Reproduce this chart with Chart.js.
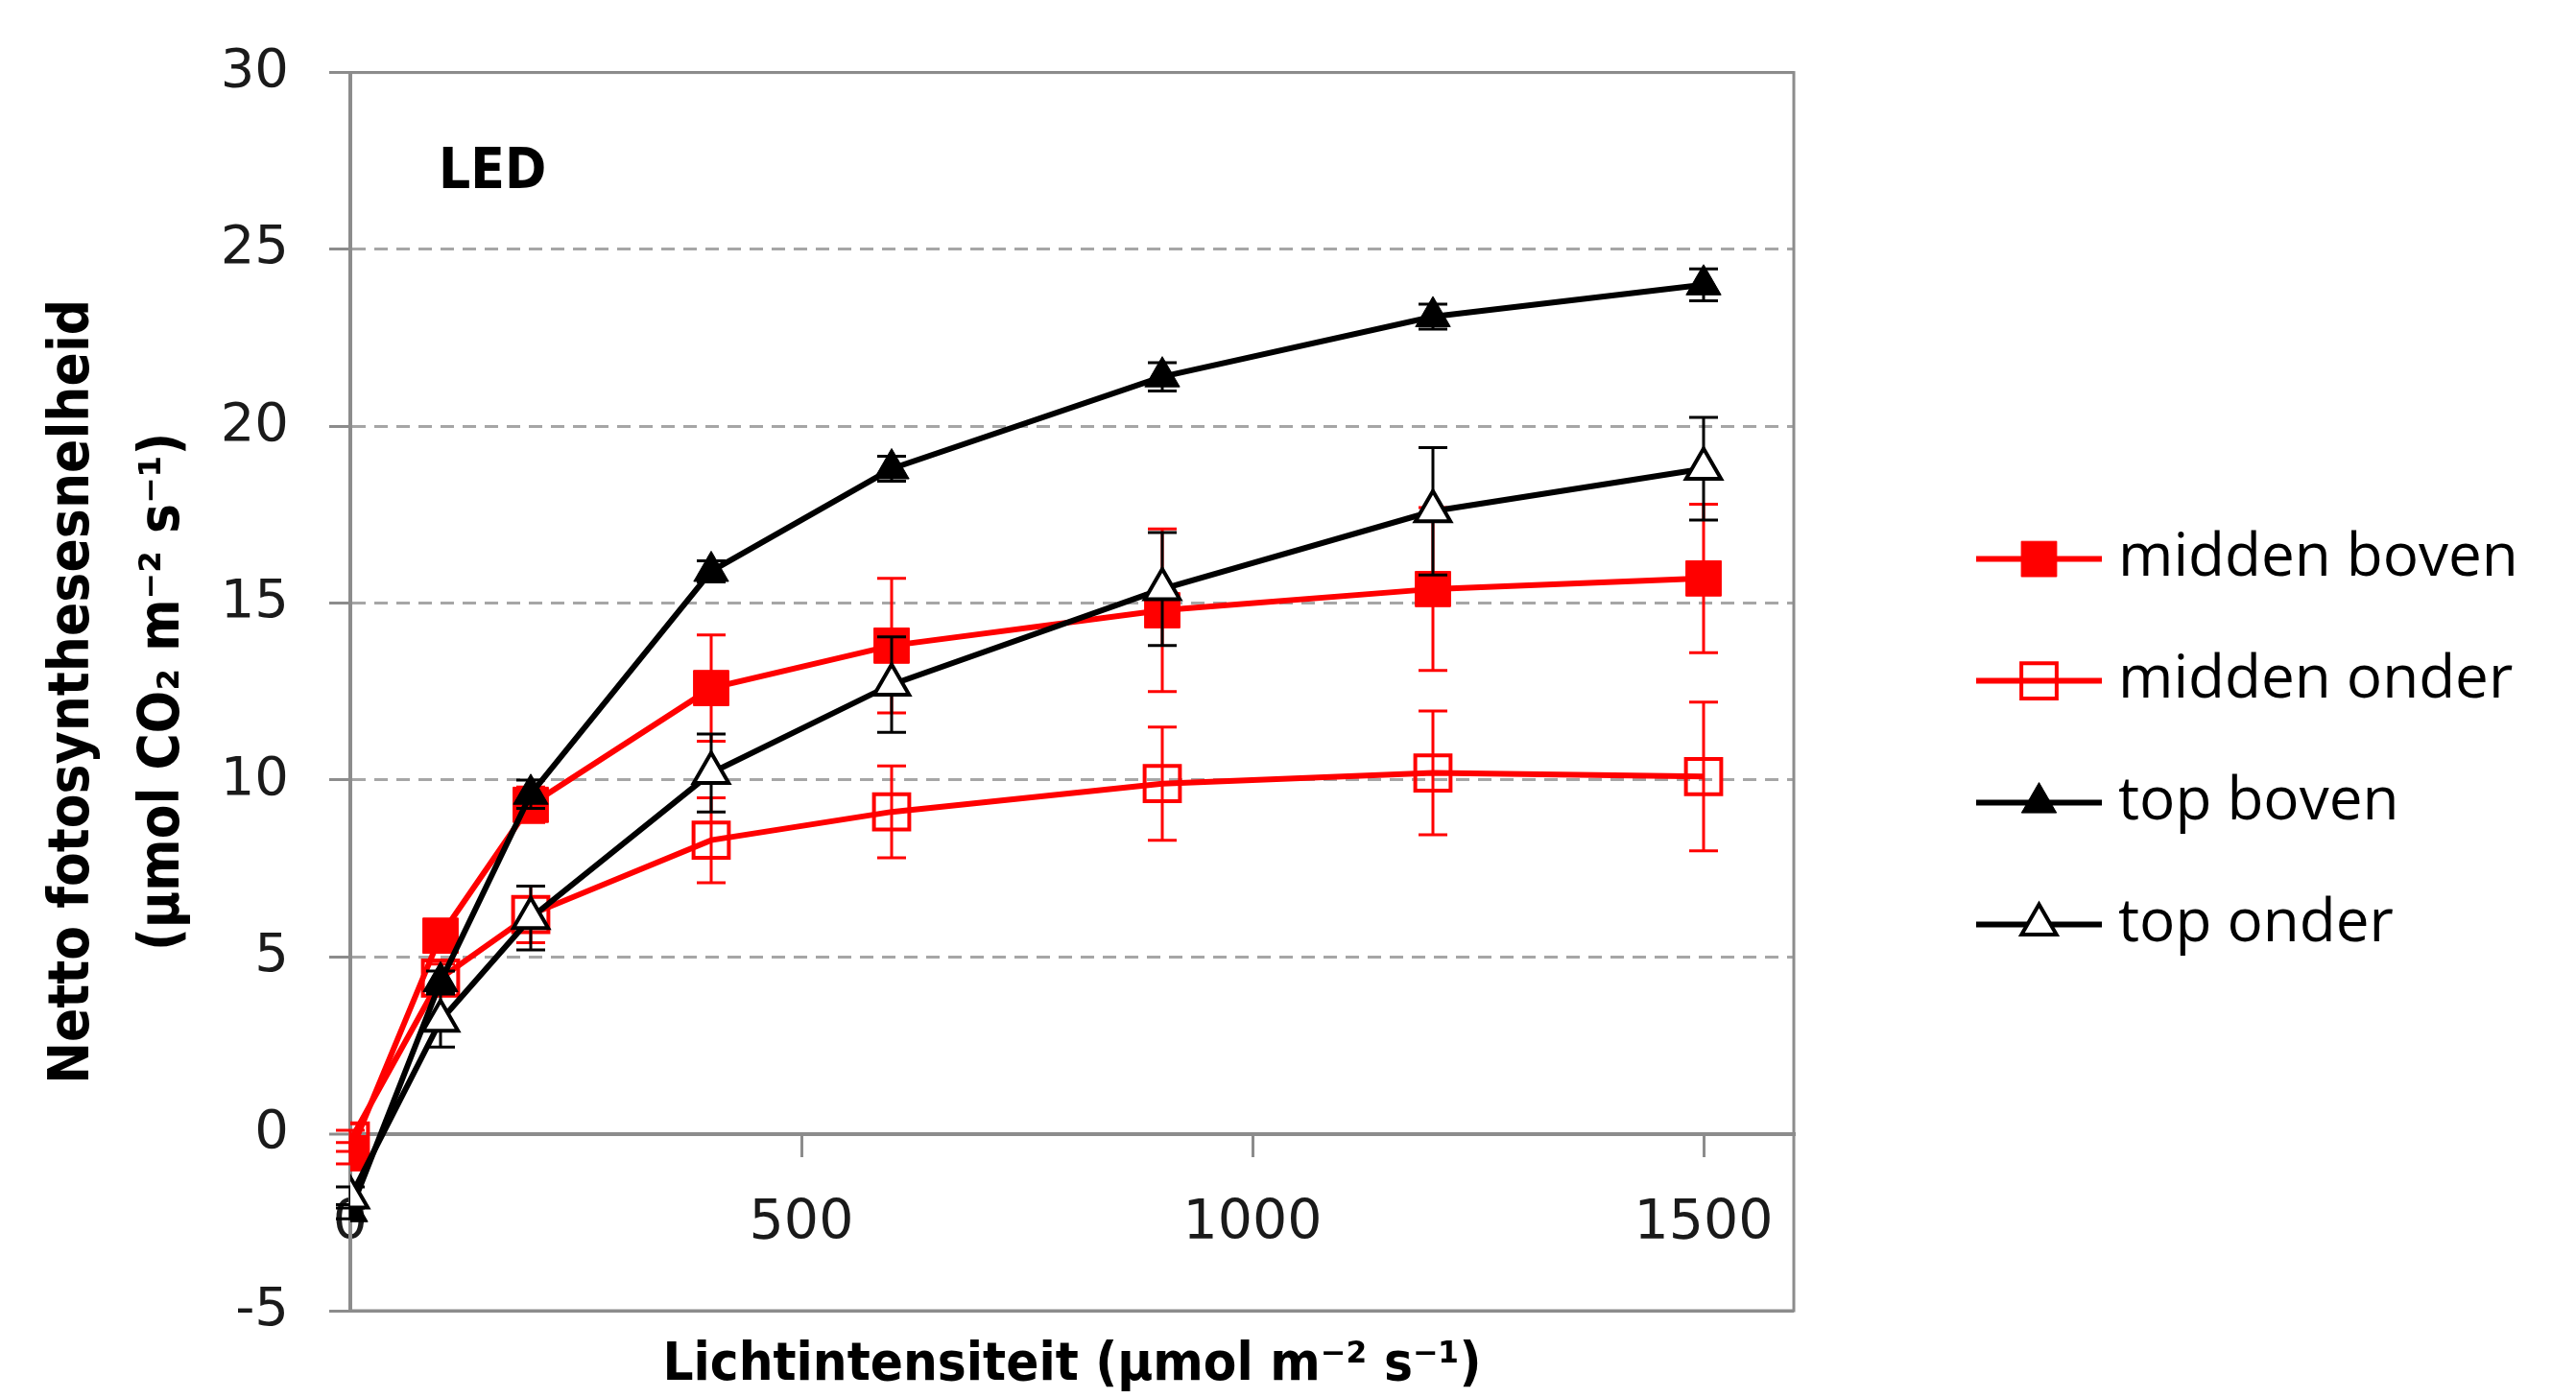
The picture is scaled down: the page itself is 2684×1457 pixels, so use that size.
<!DOCTYPE html>
<html lang="nl">
<head>
<meta charset="UTF-8">
<title>Netto fotosynthesesnelheid - LED</title>
<script src="https://cdn.jsdelivr.net/npm/chart.js"></script>
<style>
  html, body { margin: 0; padding: 0; background: #fff; }
  canvas { display: block; }
</style>
</head>
<body>
<canvas id="grafiek" width="2684" height="1457"></canvas>
<script>
// lichtintensiteit (x-as) en as-verdeling
const lichtNiveaus = [0, 100, 200, 400, 600, 900, 1200, 1500];
const xTicks = [0, 500, 1000, 1500];
const yTicks = [-5, 0, 5, 10, 15, 20, 25, 30];

const reeksNamen = ['midden boven', 'midden onder', 'top boven', 'top onder'];

// netto fotosynthese per reeks, met foutbalken (+/-)
const middenBoven     = [-0.55, 5.6, 9.3, 12.6, 13.8, 14.8, 15.4, 15.7];
const middenBovenFout = [0.3, 0.3, 0.5, 1.5, 1.9, 2.3, 2.3, 2.1];
const middenOnder     = [-0.2, 4.4, 6.2, 8.3, 9.1, 9.9, 10.2, 10.1];
const middenOnderFout = [0.3, 0.4, 0.8, 1.2, 1.3, 1.6, 1.75, 2.1];
const topBoven        = [-2.2, 4.3, 9.6, 15.9, 18.8, 21.4, 23.1, 24.0];
const topBovenFout    = [0.2, 0.3, 0.4, 0.3, 0.35, 0.4, 0.35, 0.45];
const topOnder        = [-1.8, 3.2, 6.1, 10.2, 12.7, 15.4, 17.6, 18.8];
const topOnderFout    = [0.3, 0.75, 0.9, 1.1, 1.35, 1.6, 1.8, 1.45];

const asGrijs = '#8c8c8c';
const rasterGrijs = '#a6a6a6';
const titelFont = "'DejaVu Sans Condensed', 'Liberation Sans Narrow', sans-serif";
const leeg = 'rgba(0,0,0,0)';

function punten(waarden) {
  return lichtNiveaus.map((x, i) => ({ x: x, y: waarden[i] }));
}

function reeks(naam, waarden, fout, kleur, vorm, vulling, open, volgorde) {
  const straal = vorm === 'rect' ? 26 : 21;
  return {
    label: naam,
    data: punten(waarden),
    foutBalken: fout,
    borderColor: kleur,
    borderWidth: 6,
    tension: 0,
    fill: false,
    pointStyle: vorm,
    pointRadius: straal,
    pointHoverRadius: straal,
    pointBackgroundColor: vulling,
    pointBorderColor: kleur,
    pointBorderWidth: open ? 4 : 1,
    order: volgorde
  };
}

// foutbalken direct voor elke reeks tekenen
const foutBalkenPlugin = {
  id: 'foutBalken',
  beforeDatasetDraw(chart, args) {
    const ds = chart.data.datasets[args.index];
    const fout = ds.foutBalken;
    if (!fout) return;
    const { ctx } = chart;
    const xs = chart.scales.x, ys = chart.scales.y;
    ctx.save();
    ctx.strokeStyle = ds.borderColor;
    ctx.lineWidth = 3;
    ds.data.forEach((p, i) => {
      const px = xs.getPixelForValue(p.x);
      const boven = ys.getPixelForValue(p.y + fout[i]);
      const onder = ys.getPixelForValue(p.y - fout[i]);
      ctx.beginPath();
      ctx.moveTo(px, boven); ctx.lineTo(px, onder);
      ctx.moveTo(px - 15, boven); ctx.lineTo(px + 15, boven);
      ctx.moveTo(px - 15, onder); ctx.lineTo(px + 15, onder);
      ctx.stroke();
    });
    ctx.restore();
  }
};

// kader rond het plotgebied
const kaderPlugin = {
  id: 'kader',
  beforeDatasetsDraw(chart) {
    const { ctx, chartArea: a } = chart;
    ctx.save();
    ctx.strokeStyle = asGrijs;
    ctx.lineWidth = 3;
    ctx.strokeRect(a.left, a.top, a.right - a.left, a.bottom - a.top);
    ctx.restore();
  }
};

// "LED" label linksboven in de grafiek
const ledPlugin = {
  id: 'ledLabel',
  afterDatasetsDraw(chart) {
    const { ctx, chartArea: a } = chart;
    ctx.save();
    ctx.font = 'bold 58px ' + titelFont;
    ctx.fillStyle = '#000';
    ctx.textBaseline = 'middle';
    ctx.fillText('LED', a.left + 92, a.top + 105);
    ctx.restore();
  }
};

// legenda rechts: lijnstuk met marker, dan de naam
const legendaPlugin = {
  id: 'legenda',
  afterDraw(chart) {
    const { ctx, chartArea: a } = chart;
    const x0 = a.right + 190, x1 = a.right + 321, xTekst = a.right + 338;
    chart.data.datasets.forEach((ds, i) => {
      const yMid = a.top + 507 + i * 127;
      ctx.save();
      ctx.strokeStyle = ds.borderColor;
      ctx.lineWidth = 6;
      ctx.beginPath();
      ctx.moveTo(x0, yMid);
      ctx.lineTo(x1, yMid);
      ctx.stroke();
      ctx.fillStyle = ds.pointBackgroundColor;
      ctx.strokeStyle = ds.pointBorderColor;
      ctx.lineWidth = ds.pointBorderWidth;
      Chart.helpers.drawPoint(ctx, {
        pointStyle: ds.pointStyle,
        radius: ds.pointRadius,
        rotation: 0,
        borderWidth: ds.pointBorderWidth
      }, (x0 + x1) / 2, yMid);
      ctx.fillStyle = '#000';
      ctx.font = "62px 'Open Sans'";
      ctx.textBaseline = 'middle';
      ctx.fillText(ds.label, xTekst, yMid);
      ctx.restore();
    });
  }
};

function isKaderLijn(c) {
  return c.tick && (c.tick.value === 0 || c.tick.value === -5 || c.tick.value === 30);
}

const grafiek = new Chart(document.getElementById('grafiek').getContext('2d'), {
  type: 'line',
  data: {
    datasets: [
      reeks(reeksNamen[0], middenBoven, middenBovenFout, '#ff0000', 'rect', '#ff0000', false, 4),
      reeks(reeksNamen[1], middenOnder, middenOnderFout, '#ff0000', 'rect', leeg, true, 3),
      reeks(reeksNamen[2], topBoven, topBovenFout, '#000000', 'triangle', '#000000', false, 2),
      reeks(reeksNamen[3], topOnder, topOnderFout, '#000000', 'triangle', '#ffffff', true, 1)
    ]
  },
  plugins: [kaderPlugin, foutBalkenPlugin, ledPlugin, legendaPlugin],
  options: {
    responsive: false,
    animation: false,
    events: [],
    layout: { padding: { top: 75, right: 815, bottom: 0, left: 0 } },
    plugins: {
      legend: { display: false },
      tooltip: { enabled: false }
    },
    scales: {
      // onderste as: alleen de titel
      x: {
        type: 'linear',
        position: 'bottom',
        min: 0,
        max: 1600,
        afterFit: s => { s.height = 91; },
        grid: { display: false },
        border: { display: false },
        ticks: { display: false },
        title: {
          display: true,
          text: 'Lichtintensiteit (µmol m⁻² s⁻¹)',
          color: '#000',
          font: { family: titelFont, size: 56, weight: 'bold' },
          padding: 0
        }
      },
      // as door y = 0 met de getallen
      x0: {
        type: 'linear',
        position: { y: 0 },
        min: 0,
        max: 1600,
        afterBuildTicks: s => { s.ticks = xTicks.map(v => ({ value: v })); },
        grid: { drawOnChartArea: false, drawTicks: true, tickLength: 22, color: asGrijs, lineWidth: 3 },
        border: { color: asGrijs, width: 4 },
        ticks: {
          color: '#1a1a1a',
          font: { family: 'DejaVu Sans', size: 57 },
          padding: 38,
          maxRotation: 0,
          autoSkip: false,
          callback: v => String(v)
        }
      },
      y: {
        type: 'linear',
        position: 'left',
        min: -5,
        max: 30,
        afterBuildTicks: s => { s.ticks = yTicks.map(v => ({ value: v })); },
        afterFit: s => { s.width = 365; },
        grid: {
          color: c => isKaderLijn(c) ? asGrijs : rasterGrijs,
          lineWidth: c => (c.tick && c.tick.value === 0) ? 4 : 3,
          tickLength: 22,
          tickColor: asGrijs,
          tickWidth: 3
        },
        border: {
          color: asGrijs,
          width: 4,
          dash: c => isKaderLijn(c) || !c.tick ? [] : [14, 9]
        },
        ticks: {
          color: '#1a1a1a',
          font: { family: 'DejaVu Sans', size: 56 },
          padding: 42,
          callback: v => String(v)
        },
        title: {
          display: true,
          text: ['Netto fotosynthesesnelheid', '(µmol CO₂ m⁻² s⁻¹)'],
          color: '#000',
          font: { family: titelFont, size: 58, weight: 'bold', lineHeight: '94px' },
          padding: { top: 30, bottom: 0 }
        }
      }
    }
  }
});
</script>
</body>
</html>
